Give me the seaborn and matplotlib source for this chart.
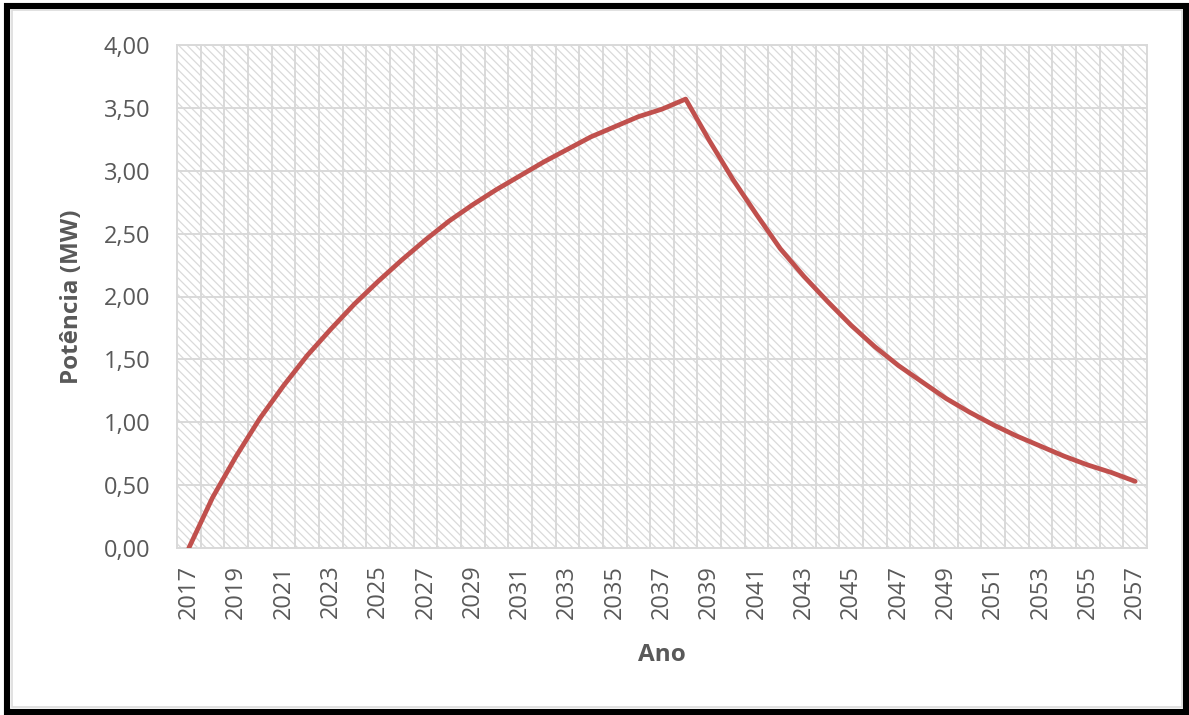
import matplotlib
matplotlib.use("Agg")
import matplotlib.pyplot as plt
from matplotlib.patches import Rectangle
from matplotlib.ticker import FuncFormatter, FixedLocator
import numpy as np
import pandas as pd
import seaborn as sns

# Installed power per year (MW)
anos = [str(a) for a in range(2017, 2058)]
potencia = [
    0.00, 0.40, 0.73, 1.03, 1.29, 1.53, 1.74, 1.94, 2.12, 2.29,
    2.45, 2.60, 2.73, 2.85, 2.96, 3.07, 3.17, 3.27, 3.35, 3.43,
    3.49, 3.57, 3.24, 2.93, 2.65, 2.38, 2.16, 1.96, 1.77, 1.60,
    1.45, 1.32, 1.19, 1.08, 0.98, 0.89, 0.81, 0.73, 0.66, 0.60,
    0.53,
]
y_ticks = [0.0, 0.5, 1.0, 1.5, 2.0, 2.5, 3.0, 3.5, 4.0]

df = pd.DataFrame({"Ano": anos, "Potencia": potencia})

sns.set_theme(style="white")
plt.rcParams["font.family"] = ["Open Sans", "DejaVu Sans"]
plt.rcParams["hatch.linewidth"] = 0.9

W, H = 1189, 715
fig = plt.figure(figsize=(W / 100, H / 100), dpi=100)
ax = fig.add_axes([177 / W, 1 - 548 / H, (1147 - 177) / W, (548 - 45) / H])

text_color = "#595959"
grid_color = "#d9d9d9"

# hatched plot-area fill
ax.add_patch(Rectangle((0, 0), 1, 1, transform=ax.transAxes, facecolor="white",
                       edgecolor="#dadada", hatch="\\\\\\\\", linewidth=0, zorder=0.2))

sns.lineplot(data=df, x="Ano", y="Potencia", ax=ax, color="#C0504D",
             linewidth=3.4, sort=False, zorder=3)
ax.lines[0].set_solid_capstyle("round")
ax.lines[0].set_solid_joinstyle("round")

n = len(anos)
ax.set_xlim(-0.5, n - 0.5)
ax.set_ylim(0, 4)

ax.set_xticks(np.arange(0, n, 2))
ax.set_xticklabels(anos[::2], rotation=90)
ax.xaxis.set_minor_locator(FixedLocator(np.arange(-0.5, n, 1.0)))
ax.set_yticks(y_ticks)
ax.yaxis.set_major_formatter(FuncFormatter(lambda v, p: f"{v:.2f}".replace(".", ",")))

ax.set_axisbelow(True)
ax.grid(False)
ax.grid(True, which="minor", axis="x", color=grid_color, linewidth=1.4)
ax.grid(True, which="major", axis="y", color=grid_color, linewidth=1.4)

ax.tick_params(axis="both", which="both", length=0)
ax.tick_params(axis="y", labelsize=17, labelcolor=text_color, pad=19)
ax.tick_params(axis="x", labelsize=17, labelcolor=text_color, pad=12)

for s in ax.spines.values():
    s.set_color(grid_color)
    s.set_linewidth(1.4)

ax.set_xlabel("Ano", fontsize=17.5, fontweight="bold", color=text_color, va="center")
ax.xaxis.set_label_coords(0.5, (548 - 655) / 503)
ax.set_ylabel("Potência (MW)", fontsize=17.5, fontweight="bold", color=text_color, va="center")
ax.yaxis.set_label_coords((72 - 177) / 970, 0.5)

# chart frame: outer black border and inner light border
fig.patches.append(Rectangle((7 / W, 3.5 / H), (1186 - 7) / W, (709.5 - 3.5) / H,
                             transform=fig.transFigure, fill=False,
                             edgecolor="black", linewidth=4.4))
fig.patches.append(Rectangle((11.5 / W, 8 / H), (1181.5 - 11.5) / W, (705.5 - 8) / H,
                             transform=fig.transFigure, fill=False,
                             edgecolor="#d9d9d9", linewidth=1.1))

fig.savefig("out.png", dpi=100)
